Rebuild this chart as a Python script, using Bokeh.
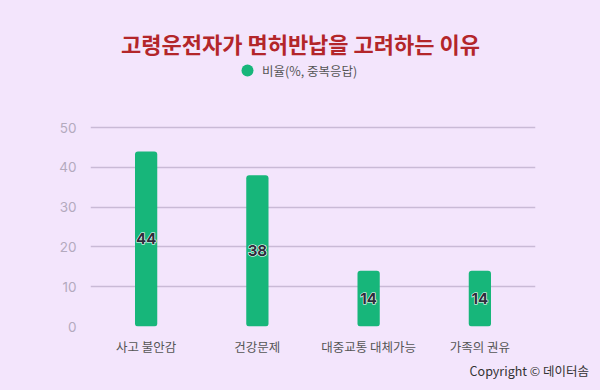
from bokeh.plotting import figure
from bokeh.models import ColumnDataSource, FactorRange, Range1d, Legend, LegendItem, FixedTicker, Label, Div
from bokeh.layouts import column
from bokeh.embed import file_html
from bokeh.resources import INLINE
from bokeh.core.properties import value

categories = ["사고 불안감", "건강문제", "대중교통 대체가능", "가족의 권유"]
values = [44, 38, 14, 14]
y_ticks = [0, 10, 20, 30, 40, 50]
title_text = "고령운전자가 면허반납을 고려하는 이유"
series_name = "비율(%, 중복응답)"
credit = "Copyright © 데이터솜"

BG = "#f3e5fc"
GREEN = "#17b67a"
FONT = "Noto Sans CJK KR"
NUMFONT = "Inter"

FIG_H = 358
BOTTOM = 32
FRAME_H = FIG_H - BOTTOM          # frame spans canvas top to x axis
Y_END = 50 * FRAME_H / (FRAME_H - 127)   # axis max 50 sits 127px below the top

src = ColumnDataSource(dict(cat=categories, val=values,
                            mid=[v / 2 for v in values],
                            lab=[str(v) for v in values]))

p = figure(x_range=FactorRange(*categories, range_padding=0),
           y_range=Range1d(0, Y_END),
           width=584, height=FIG_H, output_backend="svg", toolbar_location=None,
           min_border_left=90, min_border_right=49, min_border_top=0, min_border_bottom=BOTTOM)
p.background_fill_color = BG
p.border_fill_color = BG
p.outline_line_color = None

p.vbar(x="cat", top="val", width=0.2, source=src, fill_color=GREEN,
       line_color=None, border_radius=3)
# halo then text
p.text(x="cat", y="mid", text="lab", source=src, text_align="center",
       text_baseline="middle", text_font=value(NUMFONT), text_font_size="15px",
       text_font_style="bold", text_color="white", text_outline_color="white")
p.text(x="cat", y="mid", text="lab", source=src, text_align="center",
       text_baseline="middle", text_font=value(NUMFONT), text_font_size="15px",
       text_font_style="bold", text_color="#2d2d3a")

# axes
p.yaxis.ticker = FixedTicker(ticks=y_ticks)
p.yaxis.axis_line_color = None
p.yaxis.major_tick_line_color = None
p.yaxis.minor_tick_line_color = None
p.yaxis.major_label_text_color = "#b4aabe"
p.yaxis.major_label_text_font = NUMFONT
p.yaxis.major_label_text_font_size = "13.5px"
p.yaxis.major_label_standoff = 8

p.xaxis.axis_line_color = None
p.xaxis.major_tick_line_color = None
p.xaxis.major_label_text_color = "#555555"
p.xaxis.major_label_text_font = FONT
p.xaxis.major_label_text_font_size = "12.5px"
p.xaxis.major_label_standoff = 4

p.xgrid.grid_line_color = None
p.ygrid.ticker = FixedTicker(ticks=y_ticks)
p.ygrid.grid_line_color = "#c9bad6"
p.ygrid.grid_line_width = 1.5

# legend marker renderer (legend only; zero-size points)
marker = p.scatter(x="cat", y="val", source=src, marker="circle", size=0,
                   fill_color=GREEN, line_color=None)
legend = Legend(items=[LegendItem(label=series_name, renderers=[marker])],
                location=(142, FRAME_H - 85), orientation="horizontal",
                background_fill_alpha=0, border_line_color=None,
                padding=0, margin=0, glyph_width=30, glyph_height=30, label_standoff=-5,
                label_text_font=FONT, label_text_font_size="12.5px", label_text_color="#555555")
p.add_layout(legend)

# title
p.add_layout(Label(x=210, y=FRAME_H - 42, x_units="screen", y_units="screen", text=title_text,
                   text_align="center", text_baseline="middle", text_font=FONT,
                   text_font_size="22px", text_font_style="bold", text_color="#b3262a"))

# credit line under the chart
div = Div(text=credit, width=584, height=16,
          styles={"text-align": "right", "font-family": FONT, "font-size": "12.5px",
                  "color": "#333333", "line-height": "16px", "width": "584px"})

layout = column(p, div, spacing=0)

tmpl = "{% block preamble %}<style>html,body{background:" + BG + ";}</style>{% endblock %}"
open("out.html", "w").write(file_html(layout, INLINE, template=tmpl))
